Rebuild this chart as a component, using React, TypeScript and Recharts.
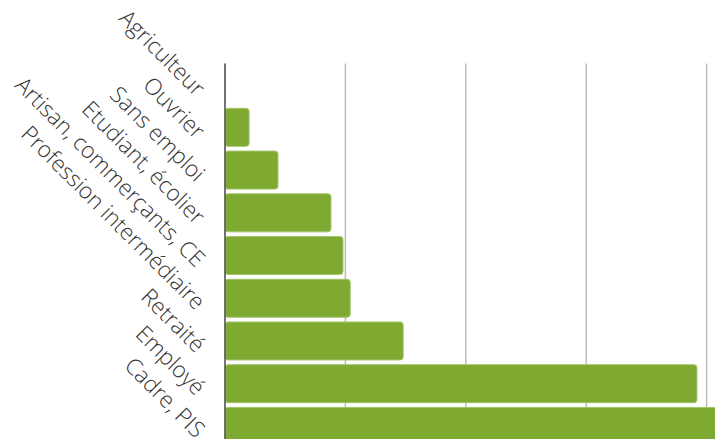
import React from "react";
import { BarChart, Bar, XAxis, YAxis, CartesianGrid } from "recharts";

const categories = [
  "Agriculteur",
  "Ouvrier",
  "Sans emploi",
  "Etudiant, écolier",
  "Artisan, commerçants, CE",
  "Profession intermédiaire",
  "Retraité",
  "Employé",
  "Cadre, PIS",
];
const values = [0, 2.0, 4.4, 8.8, 9.8, 10.4, 14.8, 39.2, 45];
const xTicks = [0, 10, 20, 30, 40, 50];

const data = categories.map((c, i) => ({ name: c, value: values[i] }));

const Tick = (props: any) => {
  const { x, y, payload } = props;
  const ax = x - 4;
  const ay = y + 7;
  return (
    <text
      x={ax}
      y={ay}
      dy="0.35em"
      textAnchor="end"
      transform={`rotate(45, ${ax}, ${ay})`}
      fontFamily="'Open Sans', sans-serif"
      fontSize={22.5}
      fontWeight={300}
      fill="#333"
    >
      {payload.value}
    </text>
  );
};

export default function App() {
  return (
    <div
      style={{
        position: "fixed",
        left: 0,
        top: 0,
        width: 715,
        height: 439,
        overflow: "hidden",
        background: "#fff",
      }}
    >
      <BarChart
        width={827}
        height={448}
        data={data}
        layout="vertical"
        margin={{ top: 63.5, right: 0, bottom: 0, left: 0 }}
        barCategoryGap="5%"
      >
        <CartesianGrid horizontal={false} stroke="#bdbdbd" strokeWidth={1.5} />
        <XAxis type="number" domain={[0, 50]} ticks={xTicks} hide />
        <YAxis
          type="category"
          dataKey="name"
          width={225}
          axisLine={{ stroke: "#555", strokeWidth: 1.5 }}
          tickLine={false}
          tickSize={0}
          tickMargin={20}
          tick={<Tick />}
          interval={0}
        />
        <Bar
          dataKey="value"
          fill="#7faa32"
          stroke="#a3c46a"
          strokeWidth={1}
          radius={3}
          isAnimationActive={false}
        />
      </BarChart>
    </div>
  );
}
